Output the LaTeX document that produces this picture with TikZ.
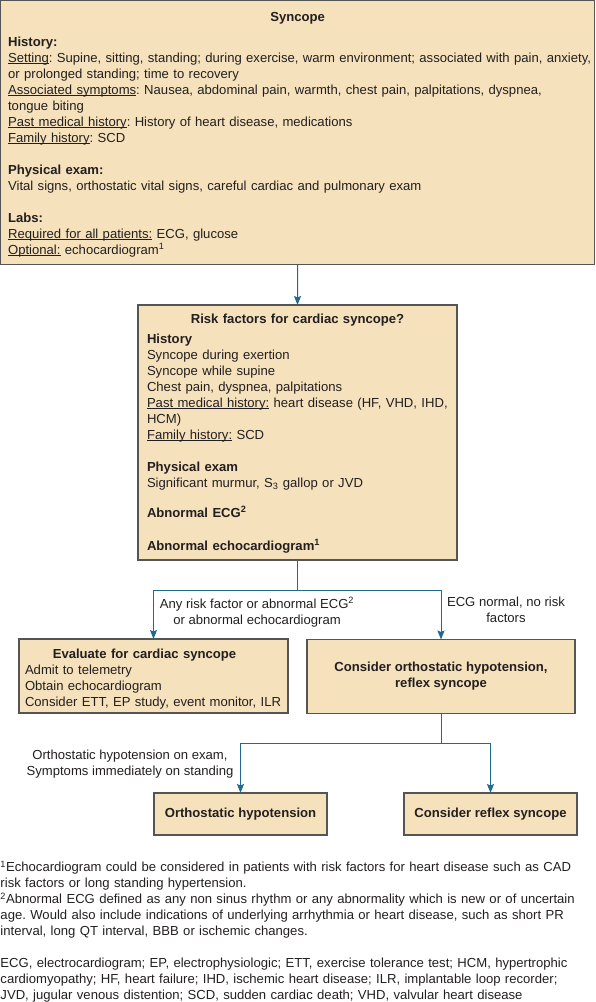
\documentclass[tikz,border=0pt]{standalone}
\usepackage{fontspec}
\setmainfont{Liberation Sans}
\usepackage{tikz}
\usetikzlibrary{arrows.meta}
\definecolor{boxfill}{RGB}{245,225,188}
\definecolor{boxline}{RGB}{85,85,85}
\definecolor{flow}{RGB}{32,106,142}
\definecolor{ink}{RGB}{35,31,32}
\newcommand{\uln}[1]{\underline{\smash{#1}}}
\newcommand{\ctr}[1]{\makebox[\linewidth]{#1}}
\frenchspacing

\begin{document}
\frenchspacing
\begin{tikzpicture}[x=1pt, y=-1pt,
  txt/.style={font=\fontsize{13.1}{16}\selectfont, text=ink, inner sep=0pt, outer sep=0pt},
  box/.style={txt, draw=boxline, line width=1.2pt, fill=boxfill, minimum height=#1},
  box/.default=42pt,
  conn/.style={draw=flow, line width=1pt, -{Stealth[length=9pt, width=7pt, inset=1.5pt]}}]
\useasboundingbox (0,0) rectangle (596,1002);

\node[box=264pt, minimum width=594pt, inner xsep=7.5pt, text width=579pt, align=left] (syncope) at (297.6,132.6) {%
\ctr{\rule{0pt}{13pt}\bfseries Syncope}\\[9pt]
\textbf{History:}\\
\mbox{\uln{Setting}: Supine, sitting, standing; during exercise, warm environment; associated with pain, anxiety,}\\
or prolonged standing; time to recovery\\
\uln{Associated symptoms}: Nausea, abdominal pain, warmth, chest pain, palpitations, dyspnea,\\
tongue biting\\
\uln{Past medical history}: History of heart disease, medications\\
\uln{Family history}: SCD\\[16pt]
\textbf{Physical exam:}\\
Vital signs, orthostatic vital signs, careful cardiac and pulmonary exam\\[16pt]
\textbf{Labs:}\\
\uln{Required for all patients:} ECG, glucose\\
\uln{Optional:} echocardiogram\textsuperscript{1}};

\node[box=255pt, minimum width=319pt, inner xsep=9pt, text width=301pt, align=left] (risk) at (297.5,432.5) {%
\ctr{\rule{0pt}{11pt}\bfseries Risk factors for cardiac syncope?}\\[4pt]
\textbf{History}\\
Syncope during exertion\\
Syncope while supine\\
Chest pain, dyspnea, palpitations\\
\mbox{\uln{Past medical history:} heart disease (HF, VHD, IHD,}\\
HCM)\\
\uln{Family history:} SCD\\[16pt]
\textbf{Physical exam}\\
Significant murmur, S\textsubscript{3} gallop or JVD\\[14pt]
\textbf{Abnormal ECG\textsuperscript{2}}\\[17pt]
\textbf{Abnormal echocardiogram\textsuperscript{1}}};

\node[box=74pt, minimum width=269pt, inner xsep=6pt, text width=257pt, align=left] (evaluate) at (153.5,676) {%
\ctr{\rule{0pt}{15pt}\hspace{-18pt}\bfseries Evaluate for cardiac syncope}\\
Admit to telemetry\\
Obtain echocardiogram\\
\mbox{Consider ETT, EP study, event monitor, ILR}};

\node[box=74pt, minimum width=268pt, align=center, font=\fontsize{13.1}{16}\selectfont\bfseries] (consider) at (441,676.5) {Consider orthostatic hypotension,\\reflex syncope};

\node[box, minimum width=173pt, font=\fontsize{13.1}{16}\selectfont\bfseries] (orthostatic) at (240.5,814) {Orthostatic hypotension};
\node[box, minimum width=173pt, font=\fontsize{13.1}{16}\selectfont\bfseries] (reflex) at (490.5,814) {Consider reflex syncope};

\coordinate (split1) at (297.5,590);
\coordinate (split2) at (441,743);
\draw[conn] (syncope.south) -- (risk.north);
\draw[conn] (risk.south) -- (split1) -| (evaluate.north);
\draw[conn] (split1) -| (consider.north);
\draw[conn] (consider.south) -- (split2) -| (orthostatic.north);
\draw[conn] (split2) -| (reflex.north);

\node[txt, align=center] (yeslbl) at (257,612) {Any risk factor or abnormal ECG\textsuperscript{2}\\or abnormal echocardiogram};
\node[txt, align=center] (nolbl) at (506,609.5) {ECG normal, no risk\\factors};
\node[txt, align=center] (ohlbl) at (130,764) {Orthostatic hypotension on exam,\\Symptoms immediately on standing};

\node[txt, align=left, anchor=north west, text width=596pt] (notes) at (0.5,861) {%
\textsuperscript{1}Echocardiogram could be considered in patients with risk factors for heart disease such as CAD\\
risk factors or long standing hypertension.\\
\textsuperscript{2}Abnormal ECG defined as any non sinus rhythm or any abnormality which is new or of uncertain\\
age. Would also include indications of underlying arrhythmia or heart disease, such as short PR\\
interval, long QT interval, BBB or ischemic changes.\\[16pt]
ECG, electrocardiogram; EP, electrophysiologic; ETT, exercise tolerance test; HCM, hypertrophic\\
cardiomyopathy; HF, heart failure; IHD, ischemic heart disease; ILR, implantable loop recorder;\\
JVD, jugular venous distention; SCD, sudden cardiac death; VHD, valvular heart disease};
\end{tikzpicture}
\end{document}
